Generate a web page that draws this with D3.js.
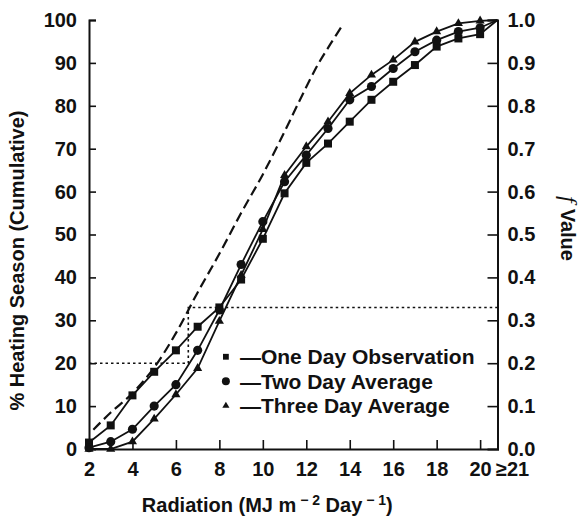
<!DOCTYPE html>
<html>
<head>
<meta charset="utf-8">
<script src="https://cdn.jsdelivr.net/npm/d3@7"></script>
<style>
  body { margin: 0; background: #fff; }
  text { font-family: "Liberation Sans", Arial, sans-serif; font-weight: bold; fill: #111; }
</style>
</head>
<body>
<div id="graph_plot"></div>
<script>
// radiation bins (MJ m-2 day-1); last bin is ">=21"
const radiation = [2, 3, 4, 5, 6, 7, 8, 9, 10, 11, 12, 13, 14, 15, 16, 17, 18, 19, 20, "≥21"];
const oneDay   = [1.5, 5.5, 12.5, 18, 23, 28.5, 33, 39.5, 49, 59.6, 66.7, 71.2, 76.3, 81.4, 85.6, 89.5, 93.8, 95.7, 96.7, 100];
const twoDay   = [0.3, 1.7, 4.6, 10, 15, 23, 32.4, 43, 53, 62.3, 68.5, 74.7, 81.4, 84.5, 88.7, 92.6, 95.3, 97.3, 98.2, 100];
const threeDay = [0, 0, 1.7, 7, 12.7, 18.8, 29.8, 40.5, 51.2, 63.8, 70.5, 76.3, 82.9, 87.2, 90.7, 94.9, 97.3, 99.2, 99.8, 100];

// dashed curve (no markers)
const dashX = [2.2, 3, 4, 5, 6, 7, 8, 9, 10, 11, 11.7, 12.2, 12.6, 13.1, 13.7];
const dashY = [4.5, 8.5, 13, 19, 27, 36.5, 45.5, 55, 64, 74, 81.3, 86.4, 90.2, 94.3, 99.1];

// dotted guide: 20% of season -> radiation level -> f value
const guideX = 6.57;
const guideLow = 20;
const guideHigh = 33;

const xTicks = [2, 4, 6, 8, 10, 12, 14, 16, 18, 20];
const yTicks = [0, 10, 20, 30, 40, 50, 60, 70, 80, 90, 100];
const fTicks = [0, 0.1, 0.2, 0.3, 0.4, 0.5, 0.6, 0.7, 0.8, 0.9, 1.0];
const legendNames = ["One Day Observation", "Two Day Average", "Three Day Average"];

// set the dimensions and margins of the graph
var margin = { top: 20, right: 82.5, bottom: 74, left: 89 },
    width = 580 - margin.left - margin.right,
    height = 523 - margin.top - margin.bottom;

var xEdge = 20.8; // where the ">=21" bin sits, on the right axis

var svg = d3.select("#graph_plot").append("svg")
    .attr("width", 580)
    .attr("height", 523)
  .append("g")
    .attr("transform", `translate(${margin.left},${margin.top})`);

var x = d3.scaleLinear().domain([2, xEdge]).range([0, width]);
var y = d3.scaleLinear().domain([0, 100]).range([height, 0]);
var yF = d3.scaleLinear().domain([0, 1]).range([height, 0]);

var xPos = (d) => x(d === "≥21" ? xEdge : d);

// axes
var gx = svg.append("g")
    .attr("transform", `translate(0,${height})`)
    .call(d3.axisBottom(x).tickValues(xTicks.concat([xEdge])).tickSize(-9).tickPadding(13)
      .tickFormat((d) => d === xEdge ? "≥21" : d));
gx.selectAll("text").filter((d) => d === xEdge).attr("text-anchor", "start").attr("dx", -2);

var gy = svg.append("g")
    .call(d3.axisLeft(y).tickValues(yTicks).tickSize(-7).tickPadding(12));

var gf = svg.append("g")
    .attr("transform", `translate(${width},0)`)
    .call(d3.axisRight(yF).tickValues(fTicks).tickSize(-10).tickPadding(10).tickFormat(d3.format(".1f")));

[gx, gy, gf].forEach((g) => {
  g.select(".domain").attr("stroke", "#111").attr("stroke-width", 2);
  g.selectAll(".tick line").attr("stroke", "#111").attr("stroke-width", 1.6);
  g.selectAll("text").style("font-size", "20px").attr("fill", "#111");
});
gx.selectAll(".tick").filter((d) => d === 2 || d === xEdge).select("line").remove();
gy.selectAll(".tick").filter((d) => d === 0).select("line").remove();
gf.selectAll(".tick").filter((d) => d === 0).select("line").remove();

// dotted guide lines
var dotted = d3.line().x((d) => x(d[0])).y((d) => y(d[1]));
svg.append("path")
    .attr("d", dotted([[2, guideLow], [guideX, guideLow], [guideX, guideHigh], [xEdge, guideHigh]]))
    .attr("fill", "none")
    .attr("stroke", "#111")
    .attr("stroke-width", 1.6)
    .attr("stroke-dasharray", "2.5,3");

// dashed curve
var dashLine = d3.line().curve(d3.curveCatmullRom.alpha(0.5))
    .x((d, i) => x(dashX[i]))
    .y((d) => y(d));
svg.append("path")
    .datum(dashY)
    .attr("d", dashLine)
    .attr("fill", "none")
    .attr("stroke", "#111")
    .attr("stroke-width", 2.2)
    .attr("stroke-dasharray", "10,5");

// the three series
var series = [
  { values: oneDay,   symbol: d3.symbolSquare,   size: 64, legendSize: 34 },
  { values: twoDay,   symbol: d3.symbolCircle,   size: 66, legendSize: 50 },
  { values: threeDay, symbol: d3.symbolTriangle, size: 36, legendSize: 22 }
];

var valueLine = d3.line()
    .x((d, i) => xPos(radiation[i]))
    .y((d) => y(d));

series.forEach((s) => {
  svg.append("path")
      .datum(s.values)
      .attr("d", valueLine)
      .attr("fill", "none")
      .attr("stroke", "#111")
      .attr("stroke-width", 1.8);

  svg.append("g").selectAll("path")
      .data(s.values.slice(0, radiation.length - 1))
      .join("path")
      .attr("transform", (d, i) => `translate(${xPos(radiation[i])},${y(d)})`)
      .attr("d", d3.symbol().type(s.symbol).size(s.size))
      .attr("fill", "#111");
});

// legend
var legend = svg.append("g").attr("transform", `translate(${x(8.3)},${y(21.5)})`);
series.forEach((s, i) => {
  var row = legend.append("g").attr("transform", `translate(0,${i * 24.5})`);
  row.append("path")
      .attr("d", d3.symbol().type(s.symbol).size(s.legendSize))
      .attr("fill", "#111");
  row.append("text")
      .attr("x", 14)
      .attr("dy", "0.35em")
      .style("font-size", "21px")
      .text("—" + legendNames[i]);
});

// axis titles
svg.append("text")
    .attr("x", width / 2 - 26)
    .attr("y", height + 63)
    .attr("text-anchor", "middle")
    .style("font-size", "20px")
    .call((t) => {
      t.append("tspan").text("Radiation (MJ m");
      t.append("tspan").attr("dy", -7).style("font-size", "14px").text(" − 2");
      t.append("tspan").attr("dy", 7).text(" Day");
      t.append("tspan").attr("dy", -7).style("font-size", "14px").text(" − 1");
      t.append("tspan").attr("dy", 7).text(")");
    });

svg.append("text")
    .attr("transform", `translate(${-margin.left + 24},${height / 2 + 26}) rotate(-90)`)
    .attr("text-anchor", "middle")
    .style("font-size", "20px")
    .text("% Heating Season (Cumulative)");

var fTitle = svg.append("text")
    .attr("transform", `translate(${width + 63},${height / 2 - 6}) rotate(90)`)
    .attr("text-anchor", "middle")
    .style("font-size", "20px");
fTitle.append("tspan")
    .style("font-family", "'Liberation Serif', 'DejaVu Serif', serif")
    .style("font-style", "italic")
    .style("font-weight", "normal")
    .style("font-size", "24px")
    .text("f ");
fTitle.append("tspan").text("Value");
</script>
</body>
</html>
